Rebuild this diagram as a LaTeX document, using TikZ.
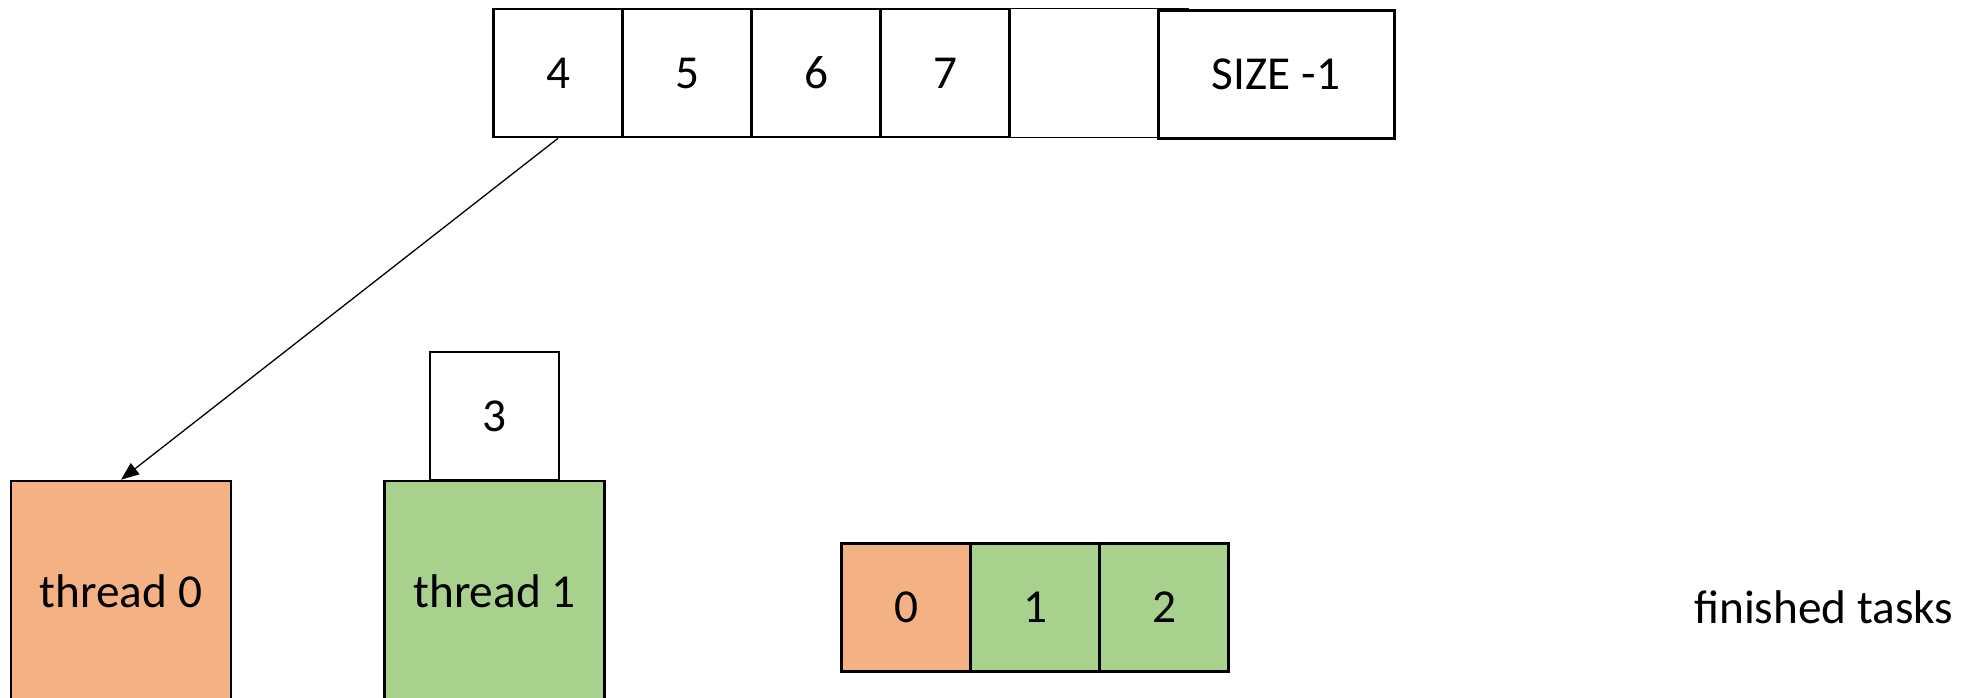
\documentclass[tikz,border=0pt]{standalone}
\usepackage{fontspec}
\setmainfont{Carlito}
\usetikzlibrary{arrows.meta}
\definecolor{orangefill}{HTML}{F4B183}
\definecolor{greenfill}{HTML}{A9D18E}
\tikzset{
  cellbox/.style={draw=black, line width=2.6pt, rectangle, inner sep=0pt,
    minimum width=129pt, minimum height=128pt,
    font=\fontsize{47.3pt}{56pt}\selectfont},
  threadbox/.style={cellbox, minimum width=220pt, minimum height=220pt},
  lightbox/.style={draw=black, line width=1.7pt, rectangle, inner sep=0pt},
  conn/.style={line width=1.3pt, -{Triangle[length=18pt,width=14pt]}}
}
\begin{document}
\begin{tikzpicture}[x=1pt, y=-1pt]
\useasboundingbox (0,0) rectangle (1965,697);
% top array
\node[lightbox, minimum width=179pt, minimum height=129pt] (empty) at (1098.5,73) {};
\node[cellbox] (b4) at (558,73) {4};
\node[cellbox] (b5) at (687,73) {5};
\node[cellbox] (b6) at (816,73) {6};
\node[cellbox] (b7) at (945,73) {7};
\node[cellbox, fill=white, minimum width=236pt, line width=3pt] (bsize) at (1276,74) {SIZE -1};
% threads
\node[threadbox, fill=orangefill] (t0) at (121,591) {thread 0};
\node[threadbox, fill=greenfill] (t1) at (494.5,591) {thread 1};
\node[cellbox, fill=white] (b3) at (494.5,416) {3};
% finished tasks
\node[cellbox, fill=orangefill] (f0) at (906,607.5) {0};
\node[cellbox, fill=greenfill] (f1) at (1035,607.5) {1};
\node[cellbox, fill=greenfill] (f2) at (1164,607.5) {2};
\node[anchor=base west, inner sep=0pt, font=\fontsize{47.3pt}{56pt}\selectfont] (label) at (1694,623) {finished tasks};
% arrow
\draw[conn] (b4.south) -- (t0.north);
\end{tikzpicture}
\end{document}
